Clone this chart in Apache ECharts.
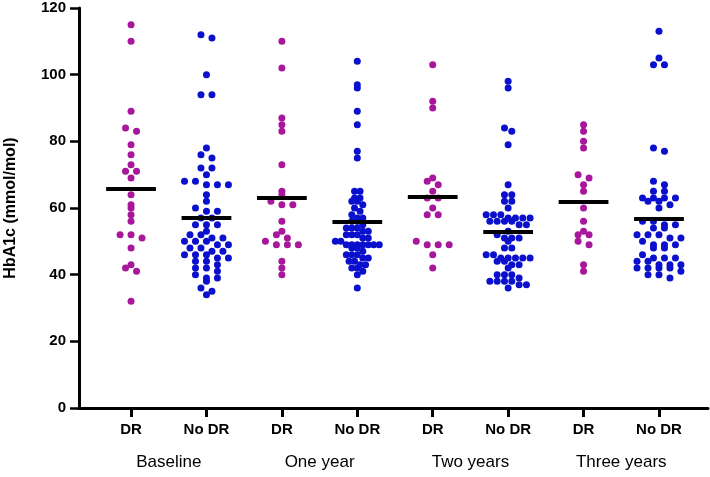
<!DOCTYPE html>
<html>
<head>
<meta charset="utf-8">
<script src="https://cdn.jsdelivr.net/npm/echarts@6/dist/echarts.min.js"></script>
<style>
    html, body { margin: 0; padding: 0; background: #fff; }
    #main { width: 710px; height: 477px; }
</style>
</head>
<body>
<div id="main"></div>
<script>
var groupNames = ['DR', 'No DR'];
var periods = ['Baseline', 'One year', 'Two years', 'Three years'];
var yTicks = [0, 20, 40, 60, 80, 100, 120];

var baselineDR = [115, 110, 89, 84, 83, 79, 76, 73, 71, 71, 69, 64, 61, 60, 58, 56, 52, 52, 51, 48, 43, 42, 41, 32];
var baselineNoDR = [112, 111, 100, 94, 94, 78, 76, 75, 72, 72, 70, 68, 68, 67, 67, 67, 64, 62, 60, 59, 59, 57, 57,
    55, 55, 55, 53, 52, 52, 51, 51, 50, 50, 50, 49, 49, 48, 48, 47, 47, 46, 46, 46, 45, 45, 44, 44, 43, 42, 42,
    41, 40, 39, 39, 38, 36, 35, 34];
var oneYearDR = [110, 102, 87, 85, 83, 73, 65, 64, 62, 61, 61, 56, 53, 52, 51, 50, 49, 49, 49, 44, 42, 40];
var oneYearNoDR = [104, 97, 96, 89, 85, 77, 75, 65, 65, 63, 63, 62, 62, 61, 60, 59, 58, 57, 57, 56, 56, 55, 54,
    54, 54, 53, 53, 52, 52, 52, 51, 51, 50, 50, 49, 49, 49, 49, 49, 49, 49, 48, 48, 47, 46, 46, 46, 45, 45, 44,
    44, 43, 43, 42, 42, 41, 40, 36];
var twoYearsDR = [103, 92, 90, 69, 68, 67, 65, 63, 63, 60, 58, 58, 50, 49, 49, 49, 46, 42];
var twoYearsNoDR = [98, 96, 84, 83, 79, 67, 64, 64, 62, 62, 60, 58, 58, 58, 57, 57, 57, 57, 56, 56, 56, 56, 55,
    55, 53, 52, 51, 51, 51, 50, 48, 48, 46, 46, 45, 45, 45, 45, 45, 44, 44, 43, 43, 42, 40, 40, 40, 39, 38, 38,
    38, 38, 37, 37, 36];
var threeYearsDR = [85, 83, 80, 78, 70, 69, 67, 65, 60, 56, 53, 52, 52, 50, 49, 43, 41];
var threeYearsNoDR = [113, 105, 103, 103, 78, 77, 68, 67, 65, 65, 63, 63, 63, 63, 62, 62, 61, 60, 56, 56, 55, 55,
    54, 54, 52, 52, 52, 51, 51, 50, 49, 49, 49, 48, 48, 46, 45, 45, 45, 44, 44, 43, 43, 43, 42, 42, 42, 42, 41,
    40, 40, 39];

var dotPlot = (function () {
    var colors = ['#A8179B', '#0A10CC'];
    var font = "'Liberation Sans', Arial, Helvetica, sans-serif";
    var pxPerX = 75.57;   // px per category step
    var maxPitch = 11;    // px between dots in one row
    var maxWidth = 44;    // widest row, px

    var Return = {
        init: function () {
            var myChart = echarts.init(document.getElementById('main'));
            myChart.setOption(buildOption());
        }
    }

    // prism-like scatter: values binned in pairs, each bin spread into a centred row
    var spread = function (values, center) {
        var bins = {};
        values.forEach(function (v) {
            var b = Math.floor((v + 1) / 2);
            (bins[b] = bins[b] || []).push(v);
        });
        var maxN = 1;
        for (var k in bins) { maxN = Math.max(maxN, bins[k].length); }
        var pitch = maxN > 1 ? Math.min(maxPitch, maxWidth / (maxN - 1)) : maxPitch;
        var out = [];
        for (var key in bins) {
            var row = bins[key].slice().sort(function (a, b) { return b - a; });
            row.forEach(function (v, i) {
                var off = (i - (row.length - 1) / 2) * pitch;
                out.push([center + off / pxPerX, v]);
            });
        }
        return out;
    }

    var mean = function (arr) {
        var s = 0;
        arr.forEach(function (v) { s += v; });
        return s / arr.length;
    }

    var buildOption = function () {
        var groups = [baselineDR, baselineNoDR, oneYearDR, oneYearNoDR,
            twoYearsDR, twoYearsNoDR, threeYearsDR, threeYearsNoDR];
        var series = groups.map(function (vals, i) {
            var pos = i + 1;
            var m = mean(vals);
            return {
                type: 'scatter',
                symbolSize: 7,
                itemStyle: { color: colors[i % 2], opacity: 1 },
                data: spread(vals, pos),
                markLine: {
                    silent: true,
                    symbol: ['none', 'none'],
                    label: { show: false },
                    lineStyle: { color: '#000', width: 4, type: 'solid' },
                    data: [[{ coord: [pos - 0.33, m] }, { coord: [pos + 0.33, m] }]]
                }
            };
        });
        var tickPos = [1, 2, 3, 4, 5, 6, 7, 8];
        return {
            animation: false,
            grid: { left: 79, right: 2, top: 8, bottom: 69, containLabel: false, outerBoundsMode: 'none' },
            xAxis: [{
                type: 'value',
                min: 0.31,
                max: 8.65,
                splitLine: { show: false },
                axisLine: { onZero: false, lineStyle: { color: '#000', width: 3 } },
                axisTick: { show: true, customValues: tickPos, length: 9, lineStyle: { color: '#000', width: 3 } },
                axisLabel: {
                    customValues: tickPos,
                    margin: 14,
                    fontFamily: font, fontSize: 15, fontWeight: 'bold', color: '#000',
                    formatter: function (v) { return groupNames[(Math.round(v) - 1) % 2]; }
                }
            }, {
                type: 'value',
                position: 'bottom',
                min: 0.31,
                max: 8.65,
                splitLine: { show: false },
                axisLine: { show: false },
                axisTick: { show: false },
                axisLabel: {
                    customValues: [1.5, 3.5, 5.5, 7.5],
                    margin: 46,
                    fontFamily: font, fontSize: 17, color: '#000',
                    formatter: function (v) { return periods[Math.round((v - 1.5) / 2)]; }
                }
            }],
            yAxis: {
                type: 'value',
                min: 0,
                max: 120,
                interval: 20,
                name: 'HbA1c (mmol/mol)',
                nameLocation: 'middle',
                nameGap: 60,
                nameTextStyle: { fontFamily: font, fontSize: 16, fontWeight: 'bold', color: '#000' },
                splitLine: { show: false },
                axisLine: { show: true, lineStyle: { color: '#000', width: 3 } },
                axisTick: { show: true, length: 9, lineStyle: { color: '#000', width: 2.5 } },
                axisLabel: {
                    margin: 13,
                    fontFamily: font, fontSize: 15, fontWeight: 'bold', color: '#000'
                }
            },
            series: series
        };
    }
    return Return;
})();

; (function () {
    dotPlot.init();
})();
</script>
</body>
</html>
